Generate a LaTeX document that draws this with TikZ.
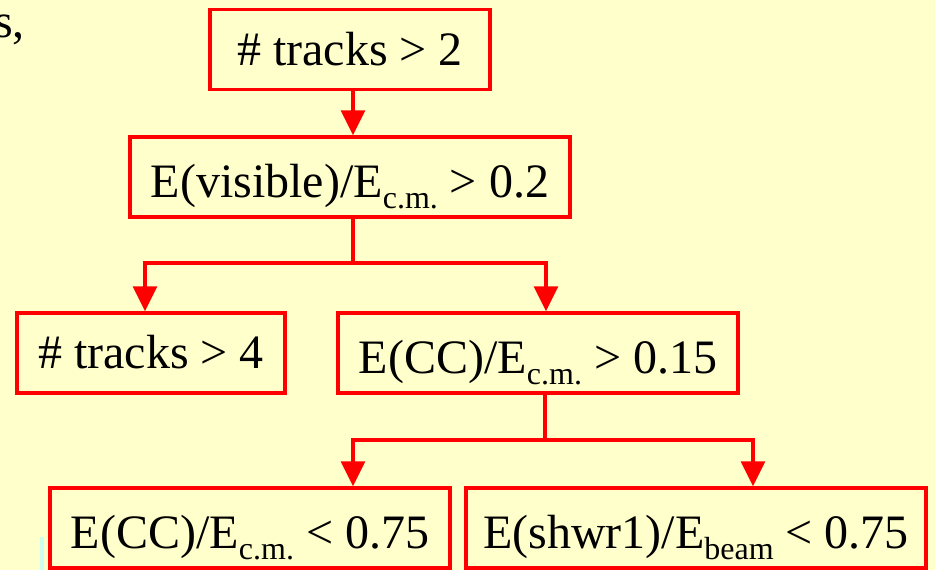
\documentclass[tikz,border=0pt]{standalone}
\usepackage{fontspec}
\setmainfont{Liberation Serif}
\usetikzlibrary{arrows.meta}
\definecolor{paper}{HTML}{FFFFCC}
\definecolor{cutred}{HTML}{FF0000}
\definecolor{aqua}{HTML}{CCFFEE}
% lowered, smaller index text after E
\newcommand{\sbs}[1]{\raisebox{-11pt}{\fontsize{32}{32}\selectfont #1}}

\begin{document}
\begin{tikzpicture}[x=1pt,y=-1pt,
  cut/.style={draw=cutred, line width=3.5pt, rectangle, inner sep=0pt,
    minimum height=80pt, font=\fontsize{48}{58}\selectfont},
  plain/.style={cut, text height=40pt, text depth=9pt},
  subbed/.style={cut, text height=44pt, text depth=4pt},
  link/.style={draw=cutred, line width=3.5pt},
  flow/.style={link, -{Triangle[length=25pt,width=24pt]}}]

% page
\path[use as bounding box, fill=paper] (0,0) rectangle (935,570);
\fill[aqua] (40,537) rectangle (44,570);
\node[anchor=base west, inner sep=0pt, font=\fontsize{48}{58}\selectfont] (tail) at (-6,37) {s,};

% cuts
\node[plain,  minimum width=280pt] (b1) at (350,49.5) {\# tracks > 2};
\node[subbed, minimum width=440pt] (b2) at (350,177) {E(visible)/E\sbs{c.m.} > 0.2};
\node[plain,  minimum width=268pt] (b3) at (151,353) {\# tracks > 4};
\node[subbed, minimum width=400pt] (b4) at (538,353) {E(CC)/E\sbs{c.m.} > 0.15};
\node[subbed, minimum width=400pt] (b5) at (250,528) {E(CC)/E\sbs{c.m.} < 0.75};
\node[subbed, minimum width=460pt] (b6) at (696,528) {E(shwr1)/E\sbs{beam} < 0.75};

% branch points
\coordinate (j1) at (353,263);
\coordinate (j2) at (545,440);

% connectors
\draw[flow] ([xshift=3pt]b1.south) -- ([xshift=3pt]b2.north);
\draw[link] (b2.south -| j1) -- (j1);
\draw[flow] (j1) -| ([xshift=-6pt]b3.north);
\draw[flow] (j1) -| ([xshift=8pt]b4.north);
\draw[link] (b4.south -| j2) -- (j2);
\draw[flow] (j2) -| ([xshift=103pt]b5.north);
\draw[flow] (j2) -| ([xshift=57pt]b6.north);
\end{tikzpicture}
\end{document}
